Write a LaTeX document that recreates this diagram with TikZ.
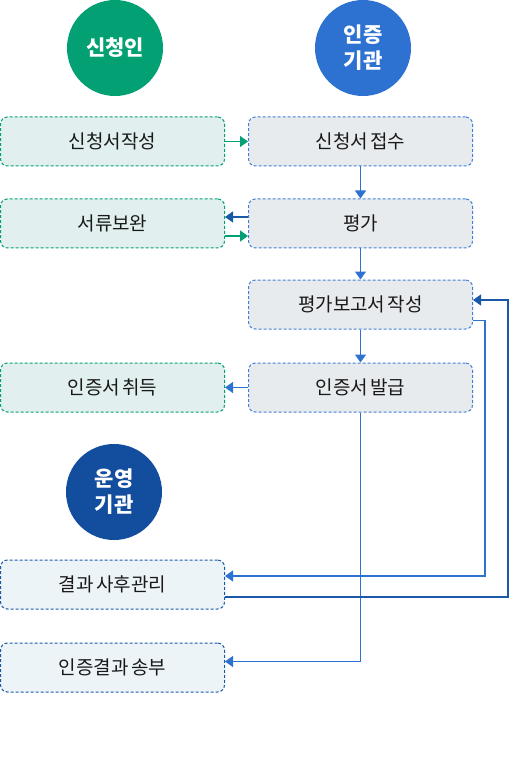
\documentclass[tikz,border=0pt]{standalone}
\usepackage{fontspec}
\setmainfont[WordSpace=0.6]{Noto Sans CJK KR}
\usetikzlibrary{arrows.meta}

\definecolor{appgreen}{HTML}{03A074}
\definecolor{certblue}{HTML}{2D72D1}
\definecolor{opsblue}{HTML}{134E9E}
\definecolor{greenfill}{HTML}{E1EFEF}
\definecolor{grayfill}{HTML}{E8EBEE}
\definecolor{paleblue}{HTML}{EDF4F8}
\definecolor{backblue}{HTML}{1A59A8}

\begin{document}
\begin{tikzpicture}[x=1pt,y=-1pt,
	role/.style={shape=circle,minimum size=96pt,inner sep=0pt,text=white,align=center,font=\fontsize{21}{26}\selectfont\bfseries},
	stepbox/.style={shape=rectangle,rounded corners=7pt,minimum width=224pt,minimum height=49pt,line width=1pt,dash pattern=on 3pt off 2pt,font=\fontsize{19}{22}\selectfont,text=black!90},
	appbox/.style={stepbox,draw=appgreen,fill=greenfill},
	certbox/.style={stepbox,draw=certblue!90,fill=grayfill},
	opsbox/.style={stepbox,draw=backblue,fill=paleblue},
	flow/.style={line width=1.1pt,-{Triangle[length=8pt,width=11pt]}}]
	\useasboundingbox (0,0) rectangle (508,775);
	
	\node[role,fill=appgreen] (applicant) at (115, 48)  {신청인};
	\node[role,fill=certblue] (certifier) at (363, 48)  {인증\\기관};
	\node[role,fill=opsblue]  (operator)  at (114, 492) {운영\\기관};
	
	\node[appbox]  (write)   at (112.5, 141.5) {신청서작성};
	\node[certbox] (receive) at (360.5, 141.5) {신청서 접수};
	\node[appbox]  (supply)  at (112.5, 223.5) {서류보완};
	\node[certbox] (assess)  at (360.5, 223.5) {평가};
	\node[certbox] (report)  at (360.5, 304.5) {평가보고서 작성};
	\node[appbox]  (obtain)  at (112.5, 387.5) {인증서 취득};
	\node[certbox] (issue)   at (360.5, 387.5) {인증서 발급};
	\node[opsbox]  (manage)  at (112.5, 584.5) {결과 사후관리};
	\node[opsbox]  (send)    at (112.5, 667.5) {인증결과 송부};
	
	\draw[flow,appgreen] (write) -- (receive);
	\draw[flow,certblue] (receive) -- (assess);
	\draw[flow,backblue] ([yshift=6.5pt]assess.west) -- ([yshift=6.5pt]supply.east);
	\draw[flow,appgreen] ([yshift=-12.5pt]supply.east) -- ([yshift=-12.5pt]assess.west);
	\draw[flow,certblue] (assess) -- (report);
	\draw[flow,certblue] (report) -- (issue);
	\draw[flow,certblue] (issue) -- (obtain);
	\draw[flow,certblue] (issue.south) |- ([yshift=6pt]send.east);
	\draw[flow,certblue] ([yshift=-16pt]report.east) -- ++(12,0) |- ([yshift=8.5pt]manage.east);
	\draw[flow,backblue] ([yshift=-12.5pt]manage.east) -- ++(283,0) |- ([yshift=4.5pt]report.east);
	
\end{tikzpicture}
\end{document}
